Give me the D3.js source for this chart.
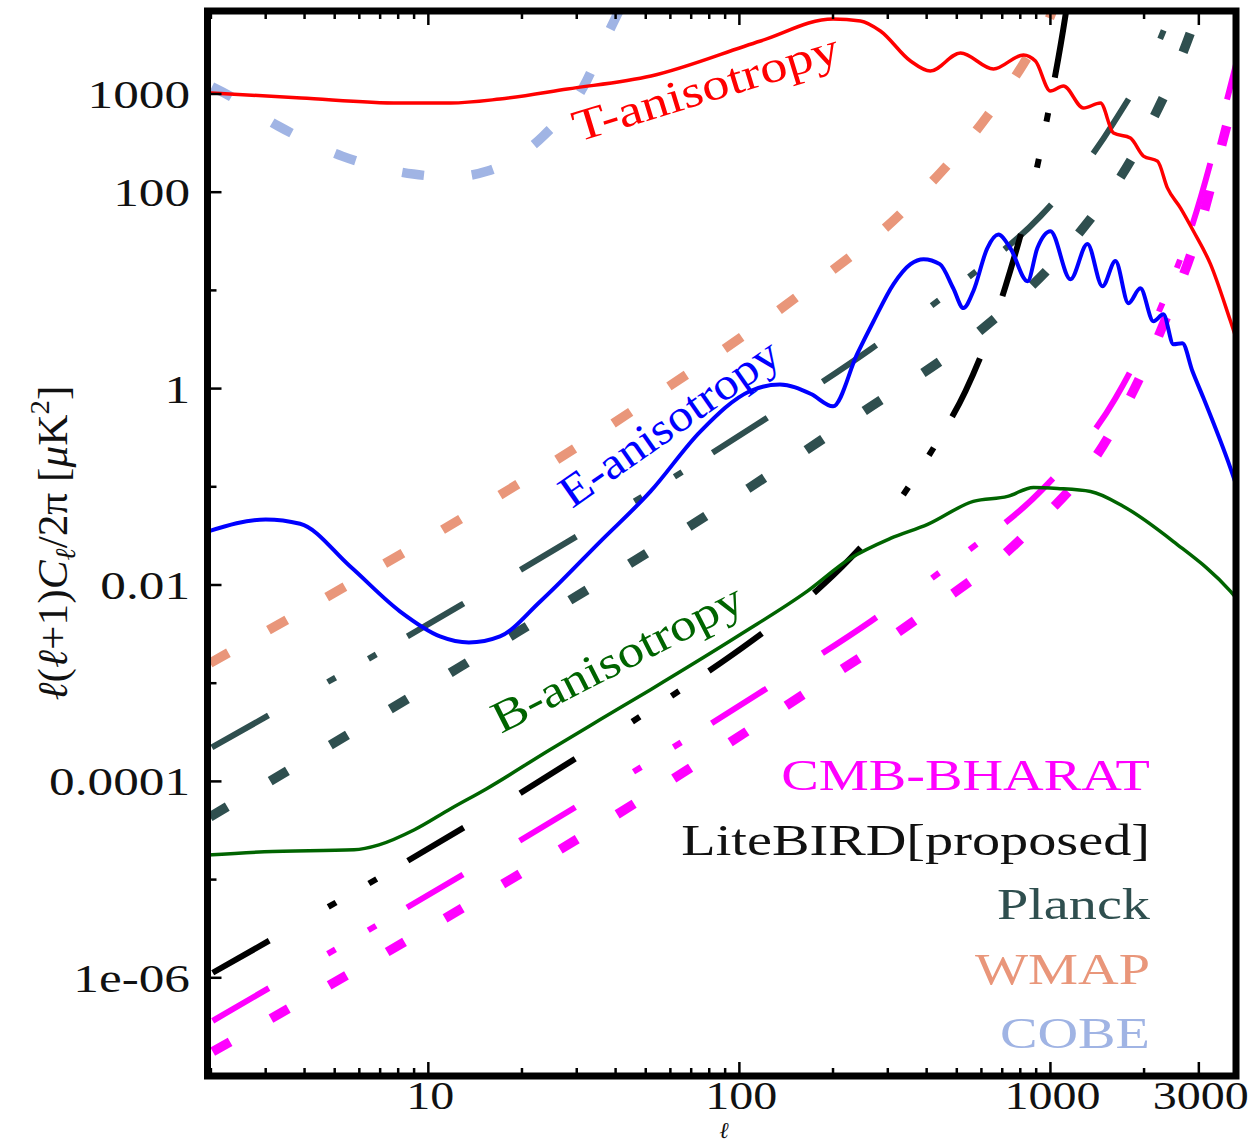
<!DOCTYPE html>
<html>
<head>
<meta charset="utf-8">
<script src="https://cdn.jsdelivr.net/npm/d3@7"></script>
<style>
  body { margin: 0; background: #fff; }
  svg { display: block; }
</style>
</head>
<body>
<script>
// power spectra l(l+1)C_l/2pi in muK^2

var ttEll = [1.95, 3.9, 8.1, 11.8, 17, 28, 52, 117, 200, 245, 284, 355, 411, 514, 656, 819, 895, 1000, 1101, 1277, 1448, 1595, 1808, 1991, 2209, 2379, 2620, 2884, 3270, 3793, 3950];
var ttPower = [1030, 910, 809, 809, 889, 1124, 1525, 3467, 5814, 5550, 4385, 2167, 1714, 2616, 1798, 2500, 2167, 1073, 1207, 720, 809, 400, 356, 233, 207, 110, 68.9, 40, 18.5, 4.85, 3.3];

var eeEll = [1.95, 3, 3.87, 5.6, 8.1, 10.9, 13.5, 17, 22.9, 35.7, 51.8, 75, 108, 135, 170, 200, 239, 270, 313, 355, 391, 441, 487, 525, 565, 627, 680, 743, 844, 908, 1000, 1160, 1315, 1470, 1618, 1782, 1946, 2143, 2307, 2486, 2655, 2862, 3105, 3793, 3950];
var eePower = [0.035, 0.0465, 0.042, 0.0155, 0.0054, 0.003, 0.0026, 0.003, 0.0068, 0.0277, 0.0897, 0.367, 0.94, 1.1, 0.88, 0.66, 2.24, 4.85, 11.6, 18.5, 20.8, 18.5, 10.5, 6.6, 9.8, 27, 37, 27, 12.4, 27, 40, 13, 29.6, 11, 19.9, 7.4, 10.5, 4.85, 5.7, 2.83, 2.9, 1.5, 0.8, 0.154, 0.106];

var bbEll = [1.95, 2.97, 5.77, 6.94, 9.02, 11.8, 15.4, 24.6, 35.7, 51.8, 100.7, 165, 227, 306, 403, 565, 728, 882, 1054, 1346, 1718, 2486, 3793, 3950];
var bbPower = [1.78e-5, 1.92e-5, 2.01e-5, 2.26e-5, 3.22e-5, 5.27e-5, 8.43e-5, 2.1e-4, 4.26e-4, 8.6e-4, 3.13e-3, 8.6e-3, 0.0186, 0.0298, 0.0414, 0.071, 0.0798, 0.0986, 0.0963, 0.0897, 0.063, 0.0277, 8.6e-3, 7.4e-3];

// noise curves of the experiments
var cobeEll = [1.95, 2.17, 3.29, 5.28, 8.95, 11.8, 15.5, 23.4, 31.5, 37.9, 41];
var cobePower = [1247, 1055, 472, 233, 153, 143, 164, 373, 1178, 4188, 7015];

var wmapEll = [1.95, 46, 157, 336, 627, 818, 1000, 1100];
var wmapPower = [1.55e-3, 0.615, 9.15, 64, 597, 2023, 6237, 15000];

var planckHiEll = [1.95, 12.8, 114, 264, 525, 929, 1595, 2309, 2600];
var planckHiPower = [2.1e-4, 6.3e-3, 0.433, 2.52, 12.4, 57, 506, 4385, 12000];

var planckLoEll = [1.95, 12.4, 107, 251, 565, 1143, 1946, 2818, 3100];
var planckLoPower = [4.2e-5, 1.41e-3, 0.0964, 0.587, 3.41, 28.3, 316, 4188, 10000];

var liteEll = [1.95, 45.3, 111, 165.6, 227, 313, 377, 433.5, 533, 717, 875, 1000, 1117, 1200];
var litePower = [1.05e-6, 4.06e-4, 2.78e-3, 7.28e-3, 0.0186, 0.060, 0.1435, 0.29, 0.939, 11, 110, 849, 6237, 30000];

var bharatHiEll = [1.95, 114, 264, 525, 942, 1618, 2291, 2862, 3707, 3950];
var bharatHiPower = [3.4e-7, 7.66e-4, 4.25e-3, 0.0205, 0.094, 0.796, 7.4, 47, 910, 2000];

var bharatLoEll = [1.95, 45.9, 165.6, 382, 832, 1525, 2259, 3105, 3444, 3950];
var bharatLoPower = [1.65e-7, 5.93e-5, 8.2e-4, 4.78e-3, 0.0327, 0.311, 3.84, 59.8, 207, 1100];

var xTickValues = [10, 100, 1000, 3000];
var xTickLabels = ["10", "100", "1000", "3000"];
var yTickValues = [1000, 100, 1, 0.01, 0.0001, 0.000001];
var yTickLabels = ["1000", "100", "1", "0.01", "0.0001", "1e-06"];
var legendNames = ["CMB-BHARAT", "LiteBIRD[proposed]", "Planck", "WMAP", "COBE"];
var legendColors = ["#ff00ff", "#111111", "#2f4f4f", "#e9967a", "#a0b4e4"];

// *********************************************

var w = 1256;
var h = 1142;
var plotL = 207.5, plotR = 1236, plotT = 11, plotB = 1076;
var serif = "'Liberation Serif', 'Times New Roman', serif";

var x = d3.scaleLog().domain([1.95, 3950]).range([plotL, plotR]);
var y = d3.scaleLog().domain([1e-7, 7000]).range([plotB, plotT]);

var svg = d3.select("body")
            .append("svg")
            .attr("width", w)
            .attr("height", h);

svg.append("clipPath")
   .attr("id", "plot-clip")
   .append("rect")
   .attr("x", plotL)
   .attr("y", plotT)
   .attr("width", plotR - plotL)
   .attr("height", plotB - plotT);

var plot = svg.append("g").attr("clip-path", "url(#plot-clip)");

var line = d3.line()
             .x(function(d) { return x(d[0]); })
             .y(function(d) { return y(d[1]); })
             .curve(d3.curveMonotoneX);

function pairs(ell, power) {
    return ell.map(function(l, i) { return [l, power[i]]; });
}

// long, dot, dot, long, (gap) ... repeats as L d d L L d d L
var longDotDot = "65,68,9,38,9,36,65,66";

var noise = [
    { ell: cobeEll, power: cobePower, color: "#a0b4e4", width: 9.5, dash: "22,48", offset: -5 },
    { ell: wmapEll, power: wmapPower, color: "#e9967a", width: 9.5, dash: "21,46", offset: -3 },
    { ell: planckHiEll, power: planckHiPower, color: "#2f4f4f", width: 6, dash: longDotDot, offset: -5 },
    { ell: planckLoEll, power: planckLoPower, color: "#2f4f4f", width: 9.5, dash: "20,50", offset: -3 },
    { ell: liteEll, power: litePower, color: "#000000", width: 6, dash: longDotDot, offset: -6 },
    { ell: bharatHiEll, power: bharatHiPower, color: "#ff00ff", width: 6, dash: longDotDot, offset: -6 },
    { ell: bharatLoEll, power: bharatLoPower, color: "#ff00ff", width: 9.5, dash: "20,47", offset: -6 }
];

plot.selectAll("path.noise")
    .data(noise)
    .enter()
    .append("path")
    .attr("class", "noise")
    .attr("d", function(d) { return line(pairs(d.ell, d.power)); })
    .attr("fill", "none")
    .attr("stroke", function(d) { return d.color; })
    .attr("stroke-width", function(d) { return d.width; })
    .attr("stroke-dasharray", function(d) { return d.dash; })
    .attr("stroke-dashoffset", function(d) { return d.offset; })
    .attr("stroke-linecap", "butt");

var spectra = [
    { ell: ttEll, power: ttPower, color: "#ff0000", width: 3.5 },
    { ell: eeEll, power: eePower, color: "#0000ff", width: 4 },
    { ell: bbEll, power: bbPower, color: "#006400", width: 3.5 }
];

plot.selectAll("path.spectrum")
    .data(spectra)
    .enter()
    .append("path")
    .attr("class", "spectrum")
    .attr("d", function(d) { return line(pairs(d.ell, d.power)); })
    .attr("fill", "none")
    .attr("stroke", function(d) { return d.color; })
    .attr("stroke-width", function(d) { return d.width; })
    .attr("stroke-linejoin", "round");

// stretch text sideways like the original rendering
function stretch(sel, k) {
    sel.each(function() {
        var n = this.getComputedTextLength();
        d3.select(this)
          .attr("textLength", n * k)
          .attr("lengthAdjust", "spacingAndGlyphs");
    });
}

// curve labels
var curveLabels = [
    { text: "T-anisotropy", color: "#ff0000", x: 578, y: 142, angle: -17, len: 276 },
    { text: "E-anisotropy", color: "#0000ff", x: 572, y: 509, angle: -35, len: 258 },
    { text: "B-anisotropy", color: "#006400", x: 501, y: 734, angle: -27, len: 276 }
];

svg.selectAll("text.curve-label")
   .data(curveLabels)
   .enter()
   .append("text")
   .attr("class", "curve-label")
   .attr("transform", function(d) { return "translate(" + d.x + "," + d.y + ") rotate(" + d.angle + ")"; })
   .attr("textLength", function(d) { return d.len; })
   .attr("lengthAdjust", "spacingAndGlyphs")
   .attr("fill", function(d) { return d.color; })
   .attr("font-family", serif)
   .attr("font-size", "45px")
   .text(function(d) { return d.text; });

// legend
var legend = svg.selectAll("text.legend")
   .data(legendNames)
   .enter()
   .append("text")
   .attr("class", "legend")
   .attr("x", 1150)
   .attr("y", function(d, i) { return 790 + i * 64.5; })
   .attr("text-anchor", "end")
   .attr("fill", function(d, i) { return legendColors[i]; })
   .attr("font-family", serif)
   .attr("font-size", "45px")
   .text(function(d) { return d; });
stretch(legend, 1.25);

// frame and ticks
var ticks = svg.append("g")
               .attr("stroke", "#000")
               .attr("stroke-width", 2.5);

x.ticks().forEach(function(v) {
    var major = xTickValues.indexOf(v) >= 0;
    var len = major ? 14 : 8;
    ticks.append("line")
         .attr("x1", x(v)).attr("x2", x(v))
         .attr("y1", plotB).attr("y2", plotB - len);
    ticks.append("line")
         .attr("x1", x(v)).attr("x2", x(v))
         .attr("y1", plotT).attr("y2", plotT + len);
});

y.ticks().filter(function(v) { return v > 1.5e-7; }).forEach(function(v) {
    var major = yTickValues.some(function(t) { return Math.abs(Math.log10(t) - Math.log10(v)) < 1e-6; });
    var len = major ? 14 : 9;
    ticks.append("line")
         .attr("x1", plotL).attr("x2", plotL + len)
         .attr("y1", y(v)).attr("y2", y(v));
});

svg.append("rect")
   .attr("x", plotL)
   .attr("y", plotT)
   .attr("width", plotR - plotL)
   .attr("height", plotB - plotT)
   .attr("fill", "none")
   .attr("stroke", "#000")
   .attr("stroke-width", 7);

// tick labels
var xLab = svg.selectAll("text.xtick")
   .data(xTickValues)
   .enter()
   .append("text")
   .attr("class", "xtick")
   .attr("x", function(d) { return x(d) + 2; })
   .attr("y", 1109)
   .attr("text-anchor", "middle")
   .attr("fill", "#111")
   .attr("font-family", serif)
   .attr("font-size", "40px")
   .text(function(d, i) { return xTickLabels[i]; });
stretch(xLab, 1.2);

var yLab = svg.selectAll("text.ytick")
   .data(yTickValues)
   .enter()
   .append("text")
   .attr("class", "ytick")
   .attr("x", 190)
   .attr("y", function(d) { return y(d) + 14; })
   .attr("text-anchor", "end")
   .attr("fill", "#111")
   .attr("font-family", serif)
   .attr("font-size", "41px")
   .text(function(d, i) { return yTickLabels[i]; });
stretch(yLab, 1.25);

// axis titles
svg.append("text")
   .attr("x", 724)
   .attr("y", 1138)
   .attr("text-anchor", "middle")
   .attr("fill", "#111")
   .attr("font-family", serif)
   .attr("font-style", "italic")
   .attr("font-size", "23px")
   .text("ℓ");

var yTitle = svg.append("text")
   .attr("transform", "translate(67,543) rotate(-90)")
   .attr("text-anchor", "middle")
   .attr("fill", "#111")
   .attr("font-family", serif)
   .attr("font-size", "42px");

yTitle.append("tspan").attr("font-style", "italic").text("ℓ");
yTitle.append("tspan").text("(");
yTitle.append("tspan").attr("font-style", "italic").text("ℓ");
yTitle.append("tspan").text("+1)");
yTitle.append("tspan").attr("font-style", "italic").text("C");
yTitle.append("tspan").attr("font-style", "italic").attr("font-size", "28px").attr("dy", 8).text("ℓ");
yTitle.append("tspan").attr("dy", -8).text("/2π [");
yTitle.append("tspan").attr("font-style", "italic").text("μ");
yTitle.append("tspan").text("K");
yTitle.append("tspan").attr("font-size", "28px").attr("dy", -18).text("2");
yTitle.append("tspan").attr("dy", 18).text("]");
yTitle.attr("textLength", 315).attr("lengthAdjust", "spacingAndGlyphs");
</script>
</body>
</html>
